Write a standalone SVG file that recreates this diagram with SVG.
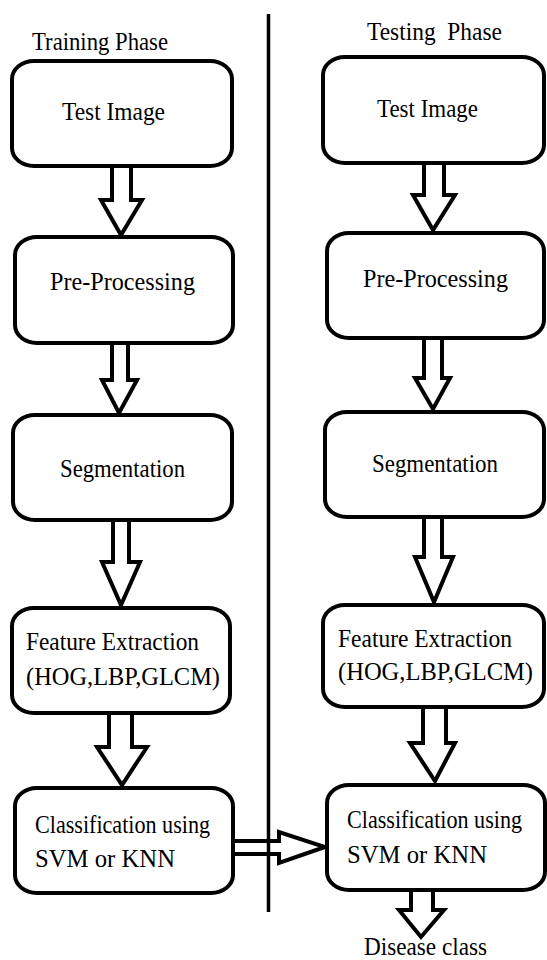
<svg xmlns="http://www.w3.org/2000/svg" width="547" height="960" viewBox="0 0 547 960">
<style>
.box{fill:#fff;stroke:#000;stroke-width:4}
.arr{fill:#fff;stroke:#000;stroke-width:4;stroke-linejoin:miter;stroke-miterlimit:10}
</style>
<rect width="547" height="960" fill="#fff"/>
<g id="connectors">
<path class="arr" d="M112 166V200H101L121 235L142 200H131V166"/>
<path class="arr" d="M112 343V380H102L119 413L137 380H128V343"/>
<path class="arr" d="M113 520V562H102L121 605L140 562H129V520"/>
<path class="arr" d="M109 713V747H97L122 785L147 747H132V713"/>
<path class="arr" d="M424 163V195H413L433 230L455 195H444V163"/>
<path class="arr" d="M424 338V378H415L433 409L450 378H442V338"/>
<path class="arr" d="M424 517V557H415L434 602L453 557H442V517"/>
<path class="arr" d="M423 707V743H410L435 781L455 743H446V707"/>
<path class="arr" d="M411 890V910H399L421 937L444 910H433V890"/>
<path class="arr" d="M233 841H279V832L325 847L279 863V854H233"/>
</g>
<g id="divider">
<line x1="268.5" y1="14" x2="268.5" y2="912" stroke="#000" stroke-width="3.5"/>
</g>
<g id="labels" font-family="Liberation Serif" font-size="23" fill="#000">
<text transform="translate(32,50) scale(1,1.12)" textLength="136" lengthAdjust="spacingAndGlyphs">Training Phase</text>
<text xml:space="preserve" transform="translate(367,40) scale(1,1.12)" textLength="135" lengthAdjust="spacingAndGlyphs">Testing  Phase</text>
</g>
<g id="train-test-image" font-family="Liberation Serif" font-size="23" fill="#000">
<rect class="box" x="12" y="61" width="220" height="105" rx="22" ry="18"/>
<text transform="translate(62,120) scale(1,1.12)" textLength="103" lengthAdjust="spacingAndGlyphs">Test Image</text>
</g>
<g id="train-preprocessing" font-family="Liberation Serif" font-size="23" fill="#000">
<rect class="box" x="15" y="237" width="218" height="106" rx="22" ry="18"/>
<text transform="translate(50,290) scale(1,1.12)" textLength="145" lengthAdjust="spacingAndGlyphs">Pre-Processing</text>
</g>
<g id="train-segmentation" font-family="Liberation Serif" font-size="23" fill="#000">
<rect class="box" x="13" y="415" width="219" height="105" rx="22" ry="18"/>
<text transform="translate(60,477) scale(1,1.12)" textLength="125" lengthAdjust="spacingAndGlyphs">Segmentation</text>
</g>
<g id="train-feature" font-family="Liberation Serif" font-size="23" fill="#000">
<rect class="box" x="12" y="608" width="218" height="105" rx="22" ry="18"/>
<text transform="translate(26,650) scale(1,1.12)" textLength="173" lengthAdjust="spacingAndGlyphs">Feature Extraction</text>
<text transform="translate(26,685) scale(1,1.12)" textLength="194" lengthAdjust="spacingAndGlyphs">(HOG,LBP,GLCM)</text>
</g>
<g id="train-classification" font-family="Liberation Serif" font-size="23" fill="#000">
<rect class="box" x="15" y="788" width="218" height="105" rx="22" ry="18"/>
<text transform="translate(35,833) scale(1,1.12)" textLength="175" lengthAdjust="spacingAndGlyphs">Classification using</text>
<text transform="translate(35,867) scale(1,1.12)" textLength="140" lengthAdjust="spacingAndGlyphs">SVM or KNN</text>
</g>
<g id="test-test-image" font-family="Liberation Serif" font-size="23" fill="#000">
<rect class="box" x="323" y="57" width="221" height="106" rx="22" ry="18"/>
<text transform="translate(377,117) scale(1,1.12)" textLength="101" lengthAdjust="spacingAndGlyphs">Test Image</text>
</g>
<g id="test-preprocessing" font-family="Liberation Serif" font-size="23" fill="#000">
<rect class="box" x="327" y="233" width="217" height="105" rx="22" ry="18"/>
<text transform="translate(363,287) scale(1,1.12)" textLength="145" lengthAdjust="spacingAndGlyphs">Pre-Processing</text>
</g>
<g id="test-segmentation" font-family="Liberation Serif" font-size="23" fill="#000">
<rect class="box" x="325" y="412" width="219" height="105" rx="22" ry="18"/>
<text transform="translate(372,472) scale(1,1.12)" textLength="126" lengthAdjust="spacingAndGlyphs">Segmentation</text>
</g>
<g id="test-feature" font-family="Liberation Serif" font-size="23" fill="#000">
<rect class="box" x="323" y="605" width="221" height="102" rx="22" ry="18"/>
<text transform="translate(338,647) scale(1,1.12)" textLength="174" lengthAdjust="spacingAndGlyphs">Feature Extraction</text>
<text transform="translate(338,680) scale(1,1.12)" textLength="195" lengthAdjust="spacingAndGlyphs">(HOG,LBP,GLCM)</text>
</g>
<g id="test-classification" font-family="Liberation Serif" font-size="23" fill="#000">
<rect class="box" x="327" y="785" width="218" height="105" rx="22" ry="18"/>
<text transform="translate(347,828) scale(1,1.12)" textLength="175" lengthAdjust="spacingAndGlyphs">Classification using</text>
<text transform="translate(347,863) scale(1,1.12)" textLength="140" lengthAdjust="spacingAndGlyphs">SVM or KNN</text>
</g>
<g id="disease-class" font-family="Liberation Serif" font-size="23" fill="#000">
<text transform="translate(364,955) scale(1,1.08)" textLength="123" lengthAdjust="spacingAndGlyphs">Disease class</text>
</g>
</svg>
